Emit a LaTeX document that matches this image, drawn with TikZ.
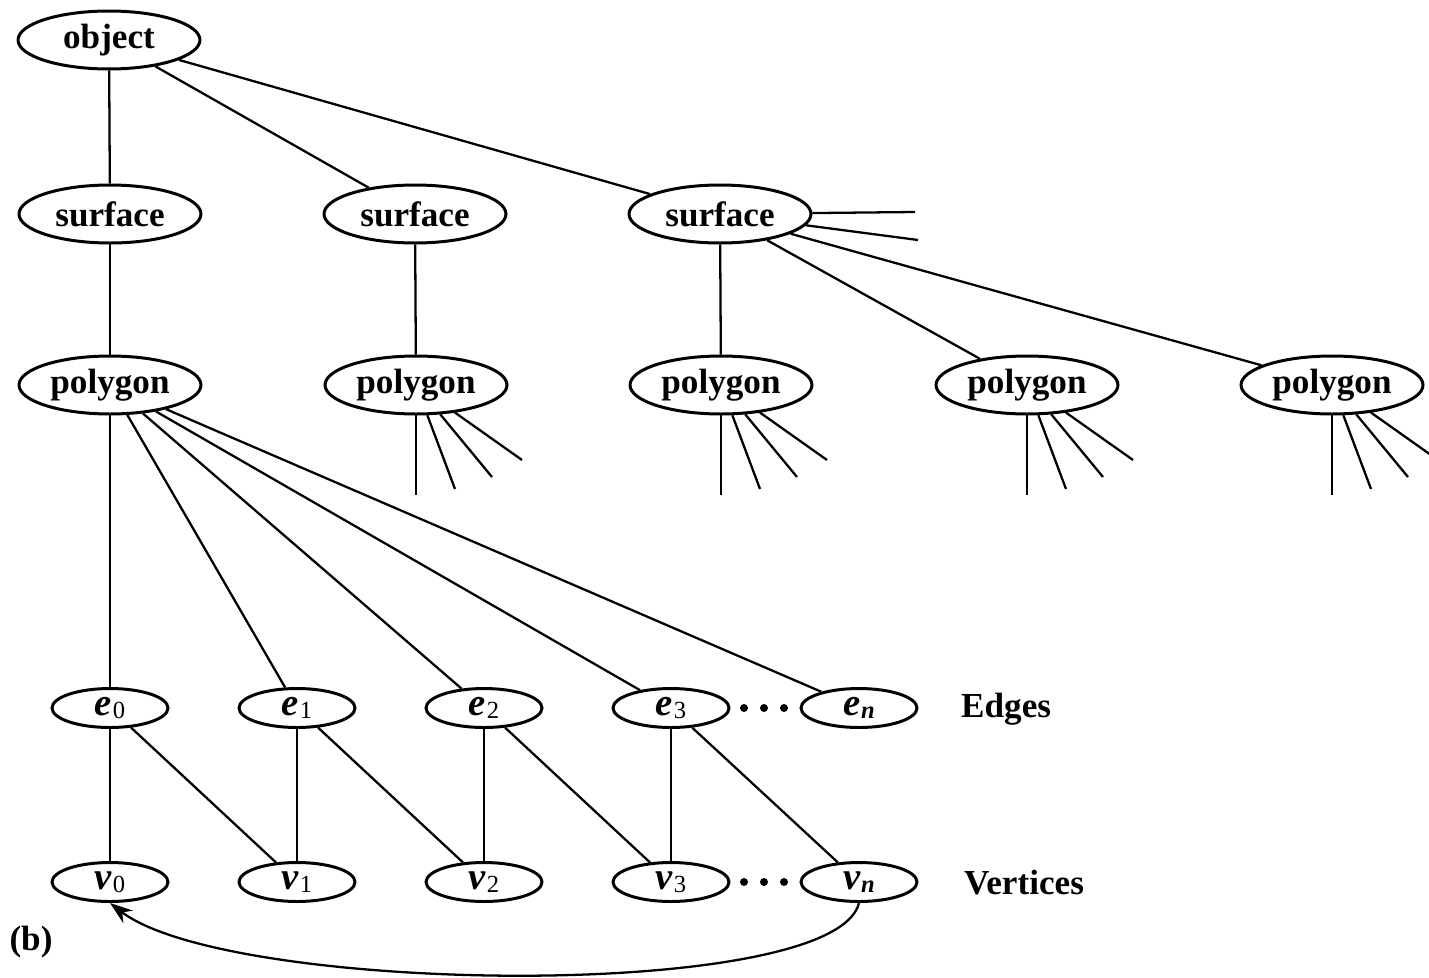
\documentclass[tikz,border=0pt]{standalone}
\usepackage{fontspec}
\setmainfont{Liberation Serif}
\usetikzlibrary{shapes.geometric,arrows.meta}
% edge / vertex label: bold italic letter with a small upright index
\newcommand{\evlabel}[2]{{\fontsize{22}{24}\selectfont\bfseries\itshape #1}\kern0.5pt\raisebox{-1.5pt}{\fontsize{14}{14}\selectfont #2}}
\begin{document}
\begin{tikzpicture}[x=0.02cm,y=-0.02cm,
  big/.style={ellipse,draw,line width=1.7pt,inner sep=0pt,
    minimum width=3.64cm,minimum height=1.16cm,
    font=\fontsize{20}{24}\selectfont\bfseries},
  small/.style={ellipse,draw,line width=1.7pt,inner sep=0pt,
    minimum width=2.32cm,minimum height=0.78cm},
  caption/.style={font=\fontsize{20}{24}\selectfont\bfseries},
  link/.style={line width=1.3pt},
  dot/.style={circle,fill,inner sep=0pt,minimum size=0.16cm}]
\useasboundingbox (0,0) rectangle (1429,977);

% hierarchy
\node[big] (obj) at (109,40) {object};
\node[big] (s1) at (110,214) {surface};
\node[big] (s2) at (415,214) {surface};
\node[big] (s3) at (720,214) {surface};
\node[big] (p1) at (110,385) {polygon};
\node[big] (p2) at (416,385) {polygon};
\node[big] (p3) at (721,385) {polygon};
\node[big] (p4) at (1027,385) {polygon};
\node[big] (p5) at (1332,385) {polygon};

% edges and vertices
\foreach \i/\x in {0/110,1/297,2/484,3/671}{
  \node[small] (e\i) at (\x,708) {\evlabel{e}{\i}};
  \node[small] (v\i) at (\x,882) {\evlabel{v}{\i}};
}
\node[small] (en) at (859,708) {\evlabel{e}{\textit{\textbf{n}}}};
\node[small] (vn) at (859,882) {\evlabel{v}{\textit{\textbf{n}}}};
\foreach \x [count=\k] in {744,764,784}{
  \node[dot] (de\k) at (\x,708) {};
  \node[dot] (dv\k) at (\x,882) {};
}

\node[caption,anchor=west] (edges) at (955,709) {Edges};
\node[caption,anchor=west] (verts) at (958,883) {Vertices};
\node[caption] (tag) at (31,942) {(b)};

% object to surfaces
\draw[link] (obj) -- (s1);
\draw[link] (obj) -- (s2);
\draw[link] (obj) -- (s3);

% surfaces to polygons
\draw[link] (s1) -- (p1);
\draw[link] (s2) -- (p2);
\draw[link] (s3) -- (p3);
\draw[link] (s3) -- (p4);
\draw[link] (s3) -- (p5);
\coordinate (s3a) at (915,212);
\coordinate (s3b) at (918,240);
\draw[link] (s3) -- (s3a);
\draw[link] (s3) -- (s3b);

% open fans below the other polygons
\foreach \p in {p2,p3,p4,p5}{
  \draw[link] (\p.south) -- +(0,80);
  \draw[link] (\p) -- +(39,104);
  \draw[link] (\p) -- +(76,92);
  \draw[link] (\p) -- +(106,75);
}

% polygon to its edges
\draw[link] (p1) -- (e0);
\draw[link] (p1) -- (e1);
\draw[link] (p1) -- (e2);
\draw[link] (p1) -- (e3);
\draw[link] (p1) -- (en);

% edges to vertices
\draw[link] (e0) -- (v0);
\draw[link] (e0) -- (v1);
\draw[link] (e1) -- (v1);
\draw[link] (e1) -- (v2);
\draw[link] (e2) -- (v2);
\draw[link] (e2) -- (v3);
\draw[link] (e3) -- (v3);
\draw[link] (e3) -- (vn);

% closing link from the last vertex back to the first
\draw[link,-{Stealth[length=13pt,width=9pt]}] (vn.south)
  .. controls (835,1002) and (230,995) .. (v0.south);
\end{tikzpicture}
\end{document}
